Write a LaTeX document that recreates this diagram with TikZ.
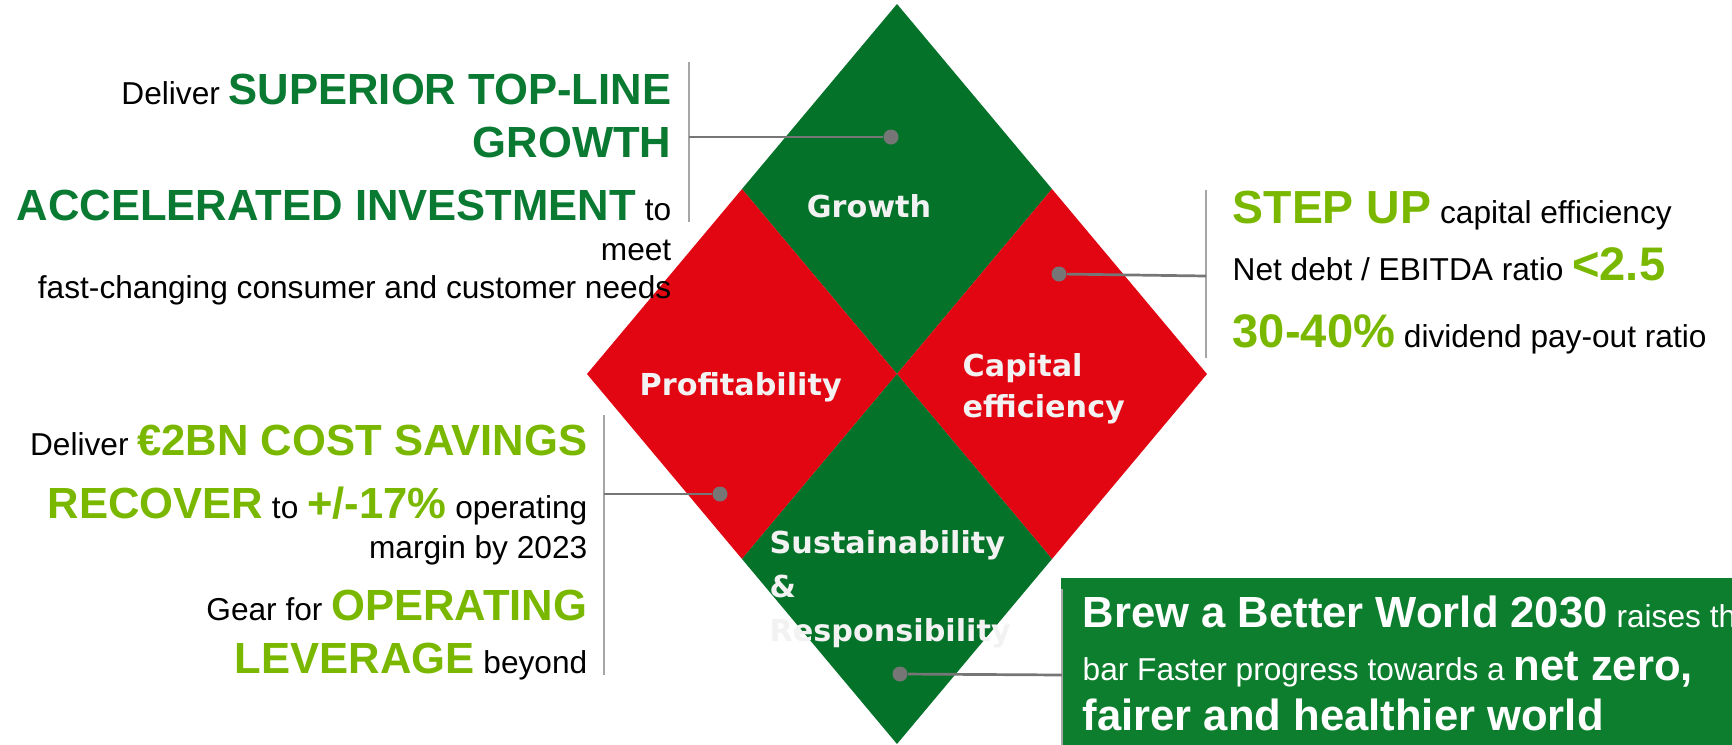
\documentclass[tikz,border=0pt]{standalone}
\usepackage{fontspec}
\setmainfont{Liberation Sans}
\newfontfamily\quadfont{DejaVu Sans}
\usetikzlibrary{positioning}

\definecolor{quadgreen}{RGB}{4,114,41}
\definecolor{quadred}{RGB}{226,6,19}
\definecolor{boxgreen}{RGB}{12,126,46}
\definecolor{deepgreen}{RGB}{10,122,50}
\definecolor{kpilime}{RGB}{122,184,0}
\definecolor{leadergray}{RGB}{118,118,118}
\definecolor{bargray}{RGB}{166,166,166}
\definecolor{labelwhite}{RGB}{242,242,242}

\newcommand{\keybold}[3][12.4]{{\color{#2}\fontsize{#1}{#1}\selectfont\bfseries #3}}

\tikzset{
  quadlabel/.style={text=labelwhite, font=\quadfont\bfseries\fontsize{8.6}{10}\selectfont},
  sidetext/.style={font=\fontsize{9}{11}\selectfont},
  leader/.style={draw=leadergray, line width=0.77pt},
  sidebar/.style={draw=bargray, line width=0.65pt},
  pin/.style={circle, fill=leadergray, minimum size=0.15cm}
}

\begin{document}
\begin{tikzpicture}[x=0.01cm, y=-0.01cm]
\tikzstyle{every node}+=[inner sep=0pt]
\useasboundingbox (0,0) rectangle (1732,745);
\clip (0,0) rectangle (1732,745);
\coordinate (top) at (897,4);
\coordinate (left) at (587,374);
\coordinate (right) at (1207,374);
\coordinate (bottom) at (897,744);
\coordinate (mid) at (897,374);
\coordinate (tl) at (742,189);
\coordinate (tr) at (1052,189);
\coordinate (bl) at (742,559);
\coordinate (br) at (1052,559);
\fill [quadgreen] (top) -- (tl) -- (mid) -- (tr) -- cycle;
\fill [quadred] (tl) -- (left) -- (bl) -- (mid) -- cycle;
\fill [quadred] (tr) -- (mid) -- (br) -- (right) -- cycle;
\fill [quadgreen] (mid) -- (bl) -- (bottom) -- (br) -- cycle;
\node [quadlabel, anchor=base] (growthlbl) at (869,217) {Growth};
\node [quadlabel, anchor=base west] (proflbl) at (639,395) {Profitability};
\node [quadlabel, anchor=base west] (caplbl) at (962,376) {Capital};
\node [quadlabel, anchor=base west] (caplbl2) at (962,417) {efficiency};
\node [quadlabel, anchor=base west] (sustlbl) at (769,553) {Sustainability};
\node [quadlabel, anchor=base west] (sustlbl2) at (769,597) {\&};
\node [quadlabel, anchor=base west] (sustlbl3) at (769,641) {Responsibility};
\fill [boxgreen] (1061,578) rectangle (1732,745);
\node [pin] (growthpin) at (891,137) {};
\node [pin] (cappin) at (1059,274) {};
\node [pin] (profpin) at (720,494) {};
\node [pin] (sustpin) at (900,674) {};
\draw [sidebar] (689,62) -- (689,222);
\draw [sidebar] (1206,190) -- (1206,358);
\draw [sidebar] (604,415) -- (604,675);
\draw [sidebar] (1062,589) -- (1062,745);
\coordinate (growthbar) at (689,137);
\coordinate (capbar) at (1206,276);
\coordinate (profbar) at (604,494);
\coordinate (sustbar) at (1062,675);
\draw [leader] (growthpin) -- (growthbar);
\draw [leader] (cappin) -- (capbar);
\draw [leader] (profpin) -- (profbar);
\draw [leader] (sustpin) -- (sustbar);
\node [sidetext, anchor=base east] (grow1) at (672,104) {Deliver \keybold{deepgreen}{SUPERIOR TOP-LINE}};
\node [sidetext, anchor=base east] (grow2) at (672,157) {\keybold{deepgreen}{GROWTH}};
\node [sidetext, anchor=base east] (grow3) at (672,220) {\keybold{deepgreen}{ACCELERATED INVESTMENT} to};
\node [sidetext, anchor=base east] (grow4) at (672,260) {meet};
\node [sidetext, anchor=base east] (grow5) at (672,298) {fast-changing consumer and customer needs};
\node [sidetext, anchor=base east] (prof1) at (588,455) {Deliver \keybold{kpilime}{€2BN COST SAVINGS}};
\node [sidetext, anchor=base east] (prof2) at (588,518) {\keybold{kpilime}{RECOVER} to \keybold{kpilime}{+/-17\%} operating};
\node [sidetext, anchor=base east] (prof3) at (588,558) {margin by 2023};
\node [sidetext, anchor=base east] (prof4) at (588,620) {Gear for \keybold{kpilime}{OPERATING}};
\node [sidetext, anchor=base east] (prof5) at (588,673) {\keybold{kpilime}{LEVERAGE} beyond};
\node [sidetext, anchor=base west] (cap1) at (1232,223) {\keybold[13.2]{kpilime}{STEP UP} capital efficiency};
\node [sidetext, anchor=base west] (cap2) at (1232,280) {Net debt / EBITDA ratio \keybold[13.4]{kpilime}{<2.5}};
\node [sidetext, anchor=base west] (cap3) at (1232,347) {\keybold[13.4]{kpilime}{30-40\%} dividend pay-out ratio};
\node [sidetext, text=white, anchor=base west] (cta1) at (1082,627) {\keybold{white}{Brew a Better World 2030} raises the};
\node [sidetext, text=white, anchor=base west] (cta2) at (1082,680) {bar Faster progress towards a \keybold{white}{net zero,}};
\node [sidetext, text=white, anchor=base west] (cta3) at (1082,730) {\keybold{white}{fairer and healthier world}};
\end{tikzpicture}
\end{document}
